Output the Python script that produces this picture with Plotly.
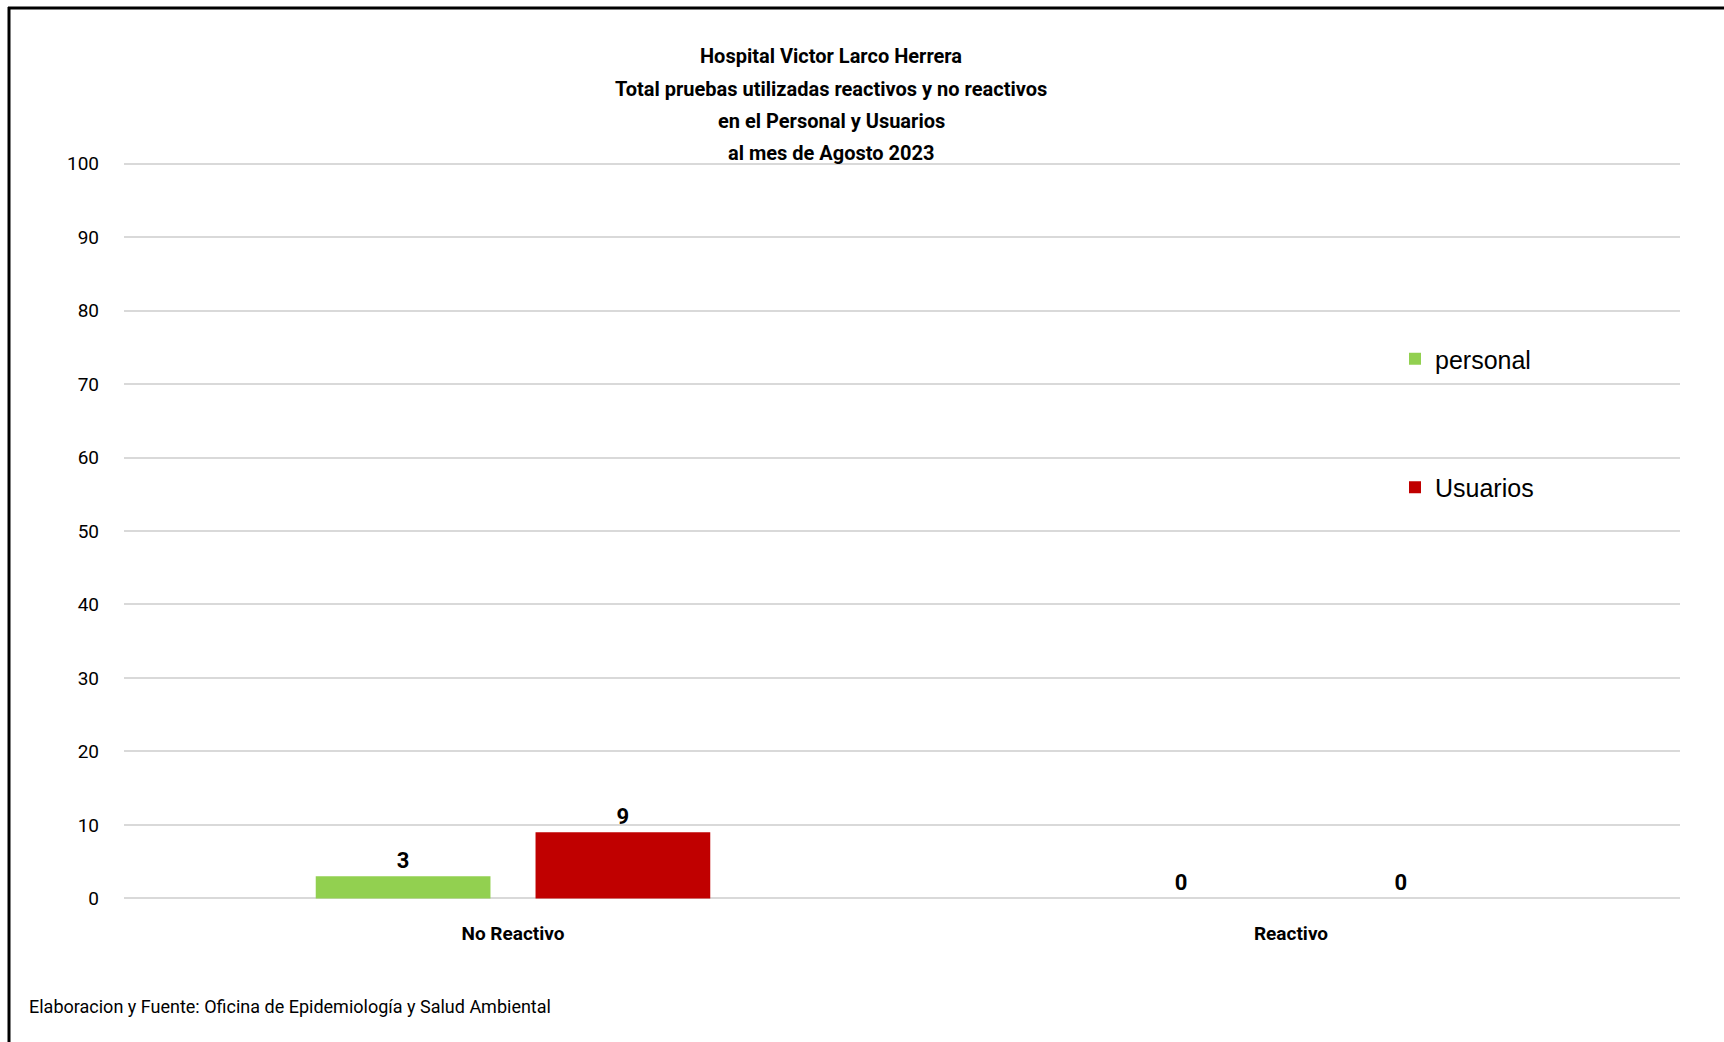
import plotly.graph_objects as go

categories = ["No Reactivo", "Reactivo"]
personal = [3, 0]
usuarios = [9, 0]
series_names = ["personal", "Usuarios"]
y_ticks = [0, 10, 20, 30, 40, 50, 60, 70, 80, 90, 100]
title_lines = [
    "Hospital Victor Larco Herrera",
    "Total pruebas utilizadas reactivos y no reactivos",
    "en el Personal y Usuarios",
    "al mes de Agosto 2023",
]
footer = "Elaboracion y Fuente: Oficina de Epidemiología y Salud Ambiental"

W, H = 1724, 1042
L, R, T, B = 124, 44, 162, 142
PW, PH = W - L - R, H - T - B


def px_x(px):
    return (px - L) / PW


def px_y(py):
    return (H - B - py) / PH


FONT = "Roboto, Liberation Sans, Arial, sans-serif"

fig = go.Figure()
fig.add_trace(go.Bar(
    x=categories, y=personal, name=series_names[0],
    marker=dict(color="#92D050", line=dict(width=0)), legendgroup="a",
    text=[str(v) for v in personal], textposition="outside",
    textfont=dict(family=FONT, size=22, color="black", weight="bold"),
    cliponaxis=False,
))
fig.add_trace(go.Bar(
    x=categories, y=usuarios, name=series_names[1],
    marker=dict(color="#C00000", line=dict(width=0)), legendgroup="b",
    text=[str(v) for v in usuarios], textposition="outside",
    textfont=dict(family=FONT, size=22, color="black", weight="bold"),
    cliponaxis=False,
))

annotations = []
line_y = [56, 89, 121, 153]
for txt, yy in zip(title_lines, line_y):
    annotations.append(dict(
        text=txt, xref="paper", yref="paper", x=px_x(831), y=px_y(yy),
        xanchor="center", yanchor="middle", showarrow=False,
        font=dict(family=FONT, size=20, color="black", weight="bold"),
    ))
annotations.append(dict(
    text=footer, xref="paper", yref="paper", x=px_x(27), y=px_y(1006),
    xanchor="left", yanchor="middle", showarrow=False,
    font=dict(family=FONT, size=18, color="black"),
))

shapes = [
    dict(type="line", xref="paper", yref="paper", x0=px_x(8), x1=px_x(W + 5),
         y0=px_y(8), y1=px_y(8), line=dict(color="black", width=3)),
    dict(type="line", xref="paper", yref="paper", x0=px_x(9), x1=px_x(9),
         y0=px_y(7), y1=px_y(H + 5), line=dict(color="black", width=3)),
]

fig.update_layout(
    width=W, height=H,
    margin=dict(l=L, r=R, t=T, b=B, autoexpand=False),
    paper_bgcolor="white", plot_bgcolor="white",
    barmode="group", bargap=0.435, bargroupgap=0.205,
    showlegend=True,
    legend=dict(
        x=px_x(1395), y=px_y(336), xanchor="left", yanchor="top",
        font=dict(family="Liberation Sans, Arial, sans-serif", size=25, color="black"),
        tracegroupgap=93, traceorder="grouped", bgcolor="rgba(0,0,0,0)",
    ),
    annotations=annotations,
    shapes=shapes,
    xaxis=dict(
        showgrid=False, showline=False, zeroline=False, ticks="",
        tickfont=dict(family=FONT, size=19, color="black", weight="bold"),
        ticklabelstandoff=20,
    ),
    yaxis=dict(
        range=[-0.22, 100.22], tickvals=y_ticks, showgrid=True, gridcolor="#D9D9D9",
        gridwidth=2, zeroline=False, showline=False, ticks="",
        tickfont=dict(family=FONT, size=19, color="black"),
        ticklabelstandoff=24,
    ),
)

fig.write_html(
    "out.html",
    config={"displayModeBar": False},
    post_script="document.body.style.margin='0';",
)
